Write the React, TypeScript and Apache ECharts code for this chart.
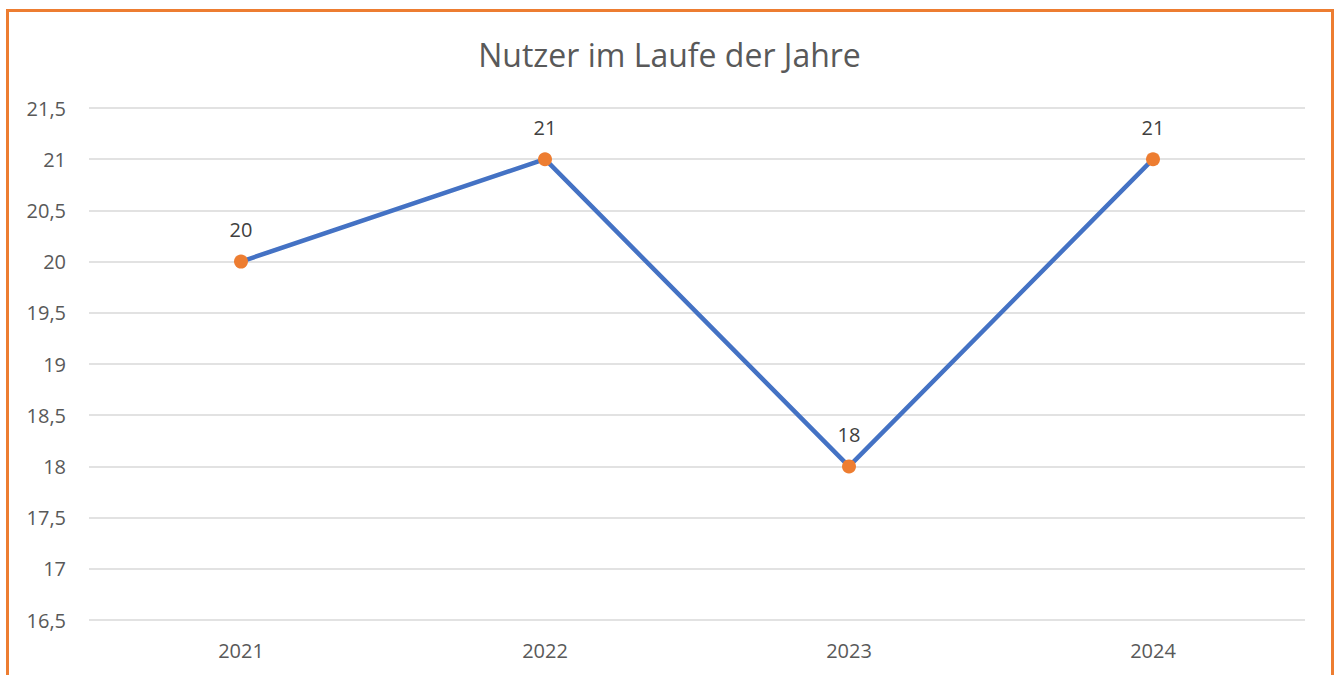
import React, { useEffect, useRef } from "react";
import * as echarts from "echarts";

const categories = ["2021", "2022", "2023", "2024"];
const users = [20, 21, 18, 21];
const yMin = 16.5;
const yMax = 21.5;
const yStep = 0.5;

export default function App() {
  const ref = useRef<HTMLDivElement>(null);
  useEffect(() => {
    if (!ref.current) return;
    const chart = echarts.init(ref.current, null, { renderer: "svg" });
    const font = "'Open Sans', 'Noto Sans', sans-serif";
    chart.setOption({
      animation: false,
      backgroundColor: "#ffffff",
      title: {
        text: "Nutzer im Laufe der Jahre",
        left: "center",
        top: 33,
        textStyle: { fontFamily: font, fontSize: 32, fontWeight: "normal", color: "#595959" },
      },
      graphic: [
        {
          type: "rect",
          shape: { x: 7.5, y: 10.5, width: 1325, height: 720 },
          style: { fill: "none", stroke: "#ED7D31", lineWidth: 3 },
          silent: true,
        },
      ],
      grid: { left: 89, right: 34, top: 108, bottom: 55, containLabel: false },
      xAxis: {
        type: "category",
        data: categories,
        boundaryGap: true,
        axisLine: { show: false },
        axisTick: { show: false },
        axisLabel: { fontFamily: font, fontSize: 20, color: "#595959", margin: 20 },
      },
      yAxis: {
        type: "value",
        min: yMin,
        max: yMax,
        interval: yStep,
        axisLine: { show: false },
        axisTick: { show: false },
        splitLine: { lineStyle: { color: "#D9D9D9", width: 1.5 } },
        axisLabel: {
          fontFamily: font,
          fontSize: 20,
          color: "#595959",
          margin: 23,
          formatter: (v: number) => String(v).replace(".", ","),
        },
      },
      series: [
        {
          type: "line",
          data: users,
          symbol: "circle",
          symbolSize: 14,
          lineStyle: { color: "#4472C4", width: 4.5 },
          itemStyle: { color: "#ED7D31" },
          label: {
            show: true,
            position: "top",
            distance: 15,
            fontFamily: font,
            fontSize: 20,
            color: "#404040",
          },
          z: 3,
        },
      ],
    });
    return () => chart.dispose();
  }, []);
  return (
    <div
      ref={ref}
      style={{ position: "fixed", left: 0, top: 0, width: 1339, height: 675 }}
    />
  );
}
